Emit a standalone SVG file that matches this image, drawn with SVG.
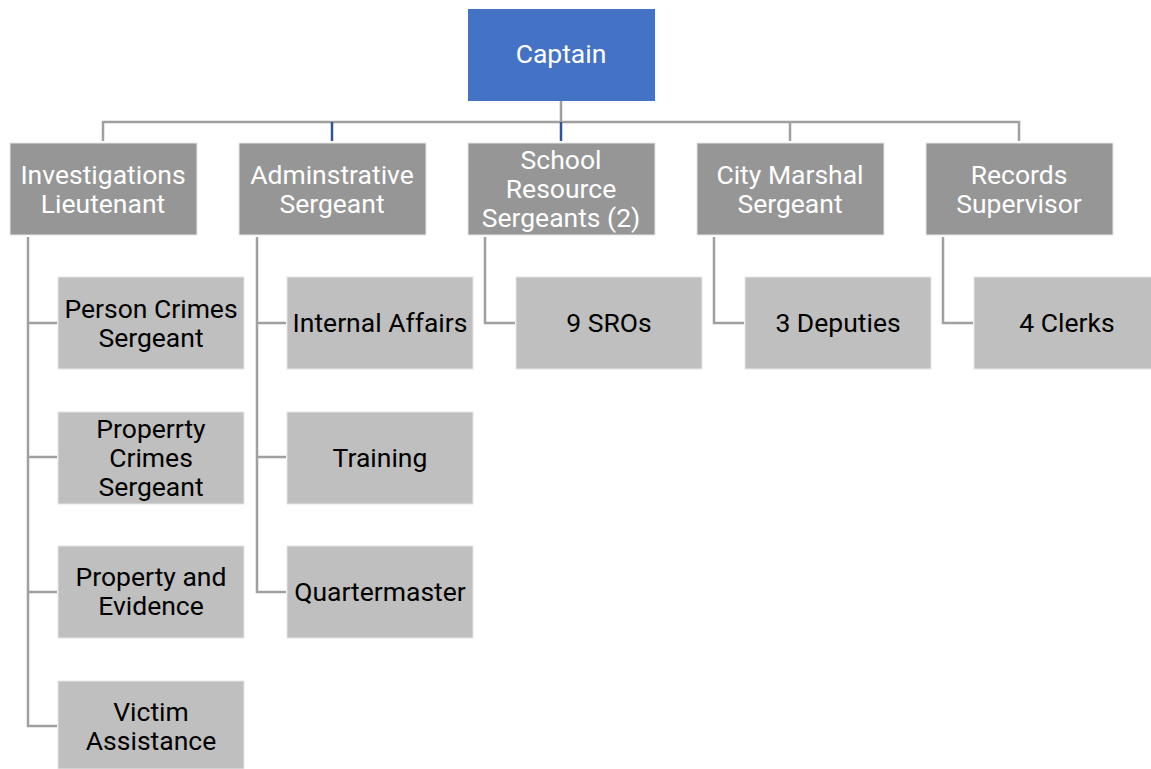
<svg xmlns="http://www.w3.org/2000/svg" width="1151" height="769" viewBox="0 0 1151 769">
<style>
.top{fill:#4472C4;}
.l1{fill:#969696;stroke:#e6e6e6;stroke-width:1;}
.l2{fill:#BFBFBF;stroke:#e6e6e6;stroke-width:1;}
.tw{fill:#ffffff;font-family:Roboto,"Liberation Sans",sans-serif;font-size:26.5px;text-anchor:middle;}
.tb{fill:#000000;font-family:Roboto,"Liberation Sans",sans-serif;font-size:26.5px;text-anchor:middle;}
.ln{fill:none;stroke:#A0A0A0;stroke-width:2.5;}
.lb{fill:none;stroke:#2F5597;stroke-width:2.5;}
</style>
<g id="connectors">
<path class="ln" d="M561 101V122M103 141V122H1019V141M790 122V141"/>
<path class="lb" d="M332 122V141M561 122V141"/>
<path class="ln" d="M28 237V726H57M28 323H57M28 457H57M28 592H57"/>
<path class="ln" d="M257 237V592H286M257 323H286M257 457H286"/>
<path class="ln" d="M485 237V323H515"/>
<path class="ln" d="M714 237V323H744"/>
<path class="ln" d="M943 237V323H973"/>
</g>
<g id="captain"><rect class="top" x="468" y="9" width="187" height="92"/><text class="tw" x="561" y="63">Captain</text></g>
<g id="investigations"><rect class="l1" x="10" y="143" width="187" height="92"/><text class="tw" x="103" y="184">Investigations</text><text class="tw" x="103" y="213">Lieutenant</text></g>
<g id="administrative"><rect class="l1" x="239" y="143" width="187" height="92"/><text class="tw" x="332" y="184">Adminstrative</text><text class="tw" x="332" y="213">Sergeant</text></g>
<g id="school"><rect class="l1" x="468" y="143" width="187" height="92"/><text class="tw" x="561" y="169">School</text><text class="tw" x="561" y="198">Resource</text><text class="tw" x="561" y="227">Sergeants (2)</text></g>
<g id="marshal"><rect class="l1" x="697" y="143" width="187" height="92"/><text class="tw" x="790" y="184">City Marshal</text><text class="tw" x="790" y="213">Sergeant</text></g>
<g id="records"><rect class="l1" x="926" y="143" width="187" height="92"/><text class="tw" x="1019" y="184">Records</text><text class="tw" x="1019" y="213">Supervisor</text></g>
<g id="person"><rect class="l2" x="58" y="277" width="186" height="92"/><text class="tb" x="151" y="318">Person Crimes</text><text class="tb" x="151" y="347">Sergeant</text></g>
<g id="property-crimes"><rect class="l2" x="58" y="412" width="186" height="92"/><text class="tb" x="151" y="438">Properrty</text><text class="tb" x="151" y="467">Crimes</text><text class="tb" x="151" y="496">Sergeant</text></g>
<g id="evidence"><rect class="l2" x="58" y="546" width="186" height="92"/><text class="tb" x="151" y="586">Property and</text><text class="tb" x="151" y="615">Evidence</text></g>
<g id="victim"><rect class="l2" x="58" y="681" width="186" height="88"/><text class="tb" x="151" y="721">Victim</text><text class="tb" x="151" y="750">Assistance</text></g>
<g id="internal"><rect class="l2" x="287" y="277" width="186" height="92"/><text class="tb" x="380" y="332">Internal Affairs</text></g>
<g id="training"><rect class="l2" x="287" y="412" width="186" height="92"/><text class="tb" x="380" y="467">Training</text></g>
<g id="quartermaster"><rect class="l2" x="287" y="546" width="186" height="92"/><text class="tb" x="380" y="601">Quartermaster</text></g>
<g id="sros"><rect class="l2" x="516" y="277" width="186" height="92"/><text class="tb" x="609" y="332">9 SROs</text></g>
<g id="deputies"><rect class="l2" x="745" y="277" width="186" height="92"/><text class="tb" x="838" y="332">3 Deputies</text></g>
<g id="clerks"><rect class="l2" x="974" y="277" width="186" height="92"/><text class="tb" x="1067" y="332">4 Clerks</text></g>
</svg>
